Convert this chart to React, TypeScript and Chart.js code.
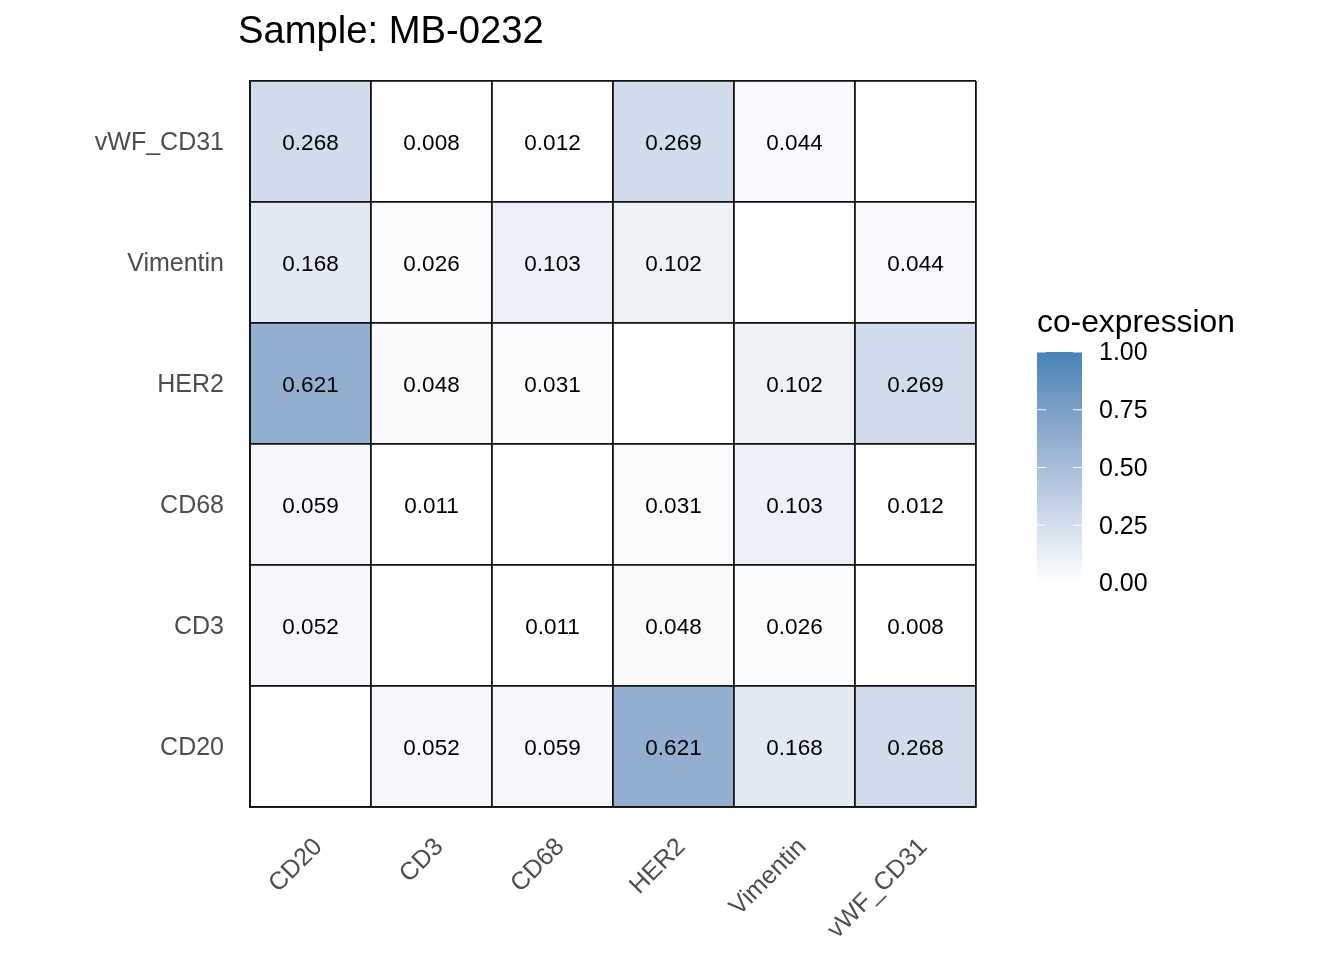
import React, { useEffect, useRef } from "react";
import { Chart, registerables } from "chart.js";

Chart.register(...registerables);

const TITLE = "Sample: MB-0232";
const LEGEND_TITLE = "co-expression";
const markers = ["CD20", "CD3", "CD68", "HER2", "Vimentin", "vWF_CD31"];
// rows listed bottom to top, columns in markers order
const rowCD20 = [null, 0.052, 0.059, 0.621, 0.168, 0.268];
const rowCD3 = [0.052, null, 0.011, 0.048, 0.026, 0.008];
const rowCD68 = [0.059, 0.011, null, 0.031, 0.103, 0.012];
const rowHER2 = [0.621, 0.048, 0.031, null, 0.102, 0.269];
const rowVimentin = [0.168, 0.026, 0.103, 0.102, null, 0.044];
const rowVWF = [0.268, 0.008, 0.012, 0.269, 0.044, null];
const rows = [rowCD20, rowCD3, rowCD68, rowHER2, rowVimentin, rowVWF];
const legendBreaks = [0, 0.25, 0.5, 0.75, 1];
const legendLabels = ["0.00", "0.25", "0.50", "0.75", "1.00"];

const LOW = [255, 255, 255];
const HIGH = [70, 130, 180];

function toLin(c: number) {
  c /= 255;
  return c <= 0.04045 ? c / 12.92 : Math.pow((c + 0.055) / 1.055, 2.4);
}
function fromLin(c: number) {
  const v = c <= 0.0031308 ? 12.92 * c : 1.055 * Math.pow(c, 1 / 2.4) - 0.055;
  return Math.max(0, Math.min(255, Math.round(v * 255)));
}
const Xn = 0.95047, Yn = 1, Zn = 1.08883;
function f(t: number) {
  return t > 0.008856 ? Math.cbrt(t) : 7.787 * t + 16 / 116;
}
function finv(t: number) {
  return t > 0.206893 ? t * t * t : (t - 16 / 116) / 7.787;
}
function rgbToLab(rgb: number[]) {
  const r = toLin(rgb[0]), g = toLin(rgb[1]), b = toLin(rgb[2]);
  const X = 0.4124564 * r + 0.3575761 * g + 0.1804375 * b;
  const Y = 0.2126729 * r + 0.7151522 * g + 0.072175 * b;
  const Z = 0.0193339 * r + 0.119192 * g + 0.9503041 * b;
  const fx = f(X / Xn), fy = f(Y / Yn), fz = f(Z / Zn);
  return [116 * fy - 16, 500 * (fx - fy), 200 * (fy - fz)];
}
function labToRgb(lab: number[]) {
  const fy = (lab[0] + 16) / 116;
  const fx = fy + lab[1] / 500;
  const fz = fy - lab[2] / 200;
  const X = Xn * finv(fx), Y = Yn * finv(fy), Z = Zn * finv(fz);
  const r = 3.2404542 * X - 1.5371385 * Y - 0.4985314 * Z;
  const g = -0.969266 * X + 1.8760108 * Y + 0.041556 * Z;
  const b = 0.0556434 * X - 0.2040259 * Y + 1.0572252 * Z;
  return [fromLin(r), fromLin(g), fromLin(b)];
}
const LAB_LO = rgbToLab(LOW);
const LAB_HI = rgbToLab(HIGH);
function colorFor(v: number | null) {
  if (v === null) return "#ffffff";
  const t = Math.max(0, Math.min(1, v));
  const lab = LAB_LO.map((a, i) => a + (LAB_HI[i] - a) * t);
  const c = labToRgb(lab);
  return `rgb(${c[0]},${c[1]},${c[2]})`;
}

const FONT = "'Liberation Sans', Arial, sans-serif";

export default function App() {
  const ref = useRef<HTMLCanvasElement | null>(null);
  useEffect(() => {
    document.body.style.margin = "0";
    const canvas = ref.current!;
    const datasets = rows.map((row, r) => ({
      label: markers[r],
      data: row.map(() => [r, r + 1] as [number, number]),
      backgroundColor: row.map((v) => colorFor(v)),
      borderWidth: 0,
      grouped: false,
      barPercentage: 1,
      categoryPercentage: 1,
    }));

    const drawPlugin = {
      id: "heatLabels",
      afterDraw(chart: any) {
        const ctx = chart.ctx;
        const xs = chart.scales.x;
        const ys = chart.scales.y;
        ctx.save();
        // cell values
        ctx.fillStyle = "#000";
        ctx.font = `22.5px ${FONT}`;
        ctx.textAlign = "center";
        ctx.textBaseline = "middle";
        rows.forEach((row, r) => {
          row.forEach((v, c) => {
            if (v === null) return;
            const x = xs.getPixelForValue(c);
            const y = ys.getPixelForValue(r + 0.5);
            ctx.fillText(v.toFixed(3), x, y + 2);
          });
        });
        // y labels
        ctx.fillStyle = "#4D4D4D";
        ctx.font = `25px ${FONT}`;
        ctx.textAlign = "right";
        markers.forEach((m, r) => {
          ctx.fillText(m, xs.left - 26, ys.getPixelForValue(r + 0.5) + 2);
        });
        // x labels rotated
        markers.forEach((m, c) => {
          const x = xs.getPixelForValue(c);
          ctx.save();
          ctx.translate(x + 8, ys.bottom + 36);
          ctx.rotate(-Math.PI / 4);
          ctx.textAlign = "right";
          ctx.textBaseline = "middle";
          ctx.fillText(m, 0, 0);
          ctx.restore();
        });
        // title
        ctx.fillStyle = "#000";
        ctx.font = `38.2px ${FONT}`;
        ctx.textAlign = "left";
        ctx.textBaseline = "middle";
        ctx.fillText(TITLE, 238, 32);
        // legend
        const bx = 1037, bw = 45, top = 352, bottom = 583;
        ctx.font = `31.8px ${FONT}`;
        ctx.fillText(LEGEND_TITLE, bx, 323);
        const grad = ctx.createLinearGradient(0, bottom, 0, top);
        for (let i = 0; i <= 20; i++) grad.addColorStop(i / 20, colorFor(i / 20));
        ctx.fillStyle = grad;
        ctx.fillRect(bx, top, bw, bottom - top);
        ctx.strokeStyle = "#ffffff";
        ctx.lineWidth = 1.2;
        ctx.font = `25px ${FONT}`;
        legendBreaks.forEach((b, i) => {
          const y = bottom - b * (bottom - top);
          ctx.beginPath();
          ctx.moveTo(bx, y);
          ctx.lineTo(bx + 9, y);
          ctx.moveTo(bx + bw - 9, y);
          ctx.lineTo(bx + bw, y);
          ctx.stroke();
          ctx.fillStyle = "#000";
          ctx.fillText(legendLabels[i], 1099, y + 1.5);
        });
        ctx.restore();
      },
    };

    const chart = new Chart(canvas, {
      type: "bar",
      data: { labels: markers, datasets: datasets as any },
      options: {
        animation: false,
        responsive: false,
        maintainAspectRatio: false,
        layout: { padding: { left: 250, top: 81, right: 368, bottom: 153 } },
        plugins: { legend: { display: false }, title: { display: false }, tooltip: { enabled: false } },
        scales: {
          x: {
            type: "category",
            offset: true,
            ticks: { display: false },
            grid: { offset: true, color: "#111", lineWidth: 1.8, drawTicks: false, z: 1 } as any,
            border: { display: true, color: "#111", width: 1.8, z: 1 } as any,
            afterFit: (s: any) => { s.height = 0; },
          },
          y: {
            type: "linear",
            min: 0,
            max: 6,
            ticks: { display: false, stepSize: 1 },
            grid: { color: "#111", lineWidth: 1.8, drawTicks: false, z: 1 } as any,
            border: { display: true, color: "#111", width: 1.8, z: 1 } as any,
            afterFit: (s: any) => { s.width = 0; },
          },
        },
      },
      plugins: [drawPlugin],
    });
    return () => chart.destroy();
  }, []);
  return (
    <div style={{ width: 1344, height: 960, background: "#fff" }}>
      <canvas ref={ref} width={1344} height={960} style={{ display: "block", width: 1344, height: 960 }} />
    </div>
  );
}
